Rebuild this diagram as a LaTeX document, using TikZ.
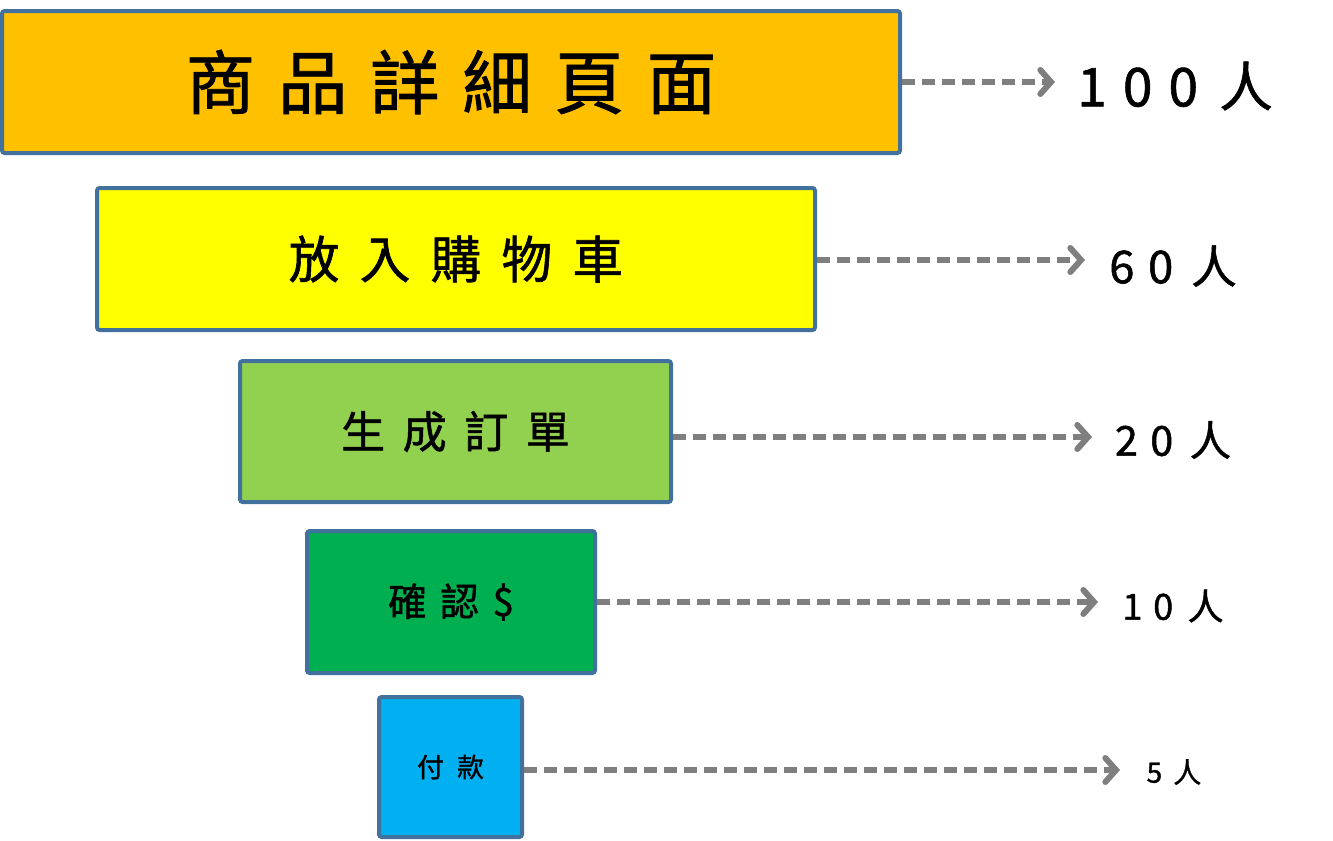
\documentclass[tikz,border=0pt]{standalone}
\usepackage{fontspec}
\setmainfont{Noto Sans CJK TC}[AutoFakeBold=1.2]
\usetikzlibrary{arrows.meta}
\definecolor{edgeblue}{HTML}{41719C}
\definecolor{cOrange}{HTML}{FFC000}
\definecolor{cYellow}{HTML}{FFFF00}
\definecolor{cLime}{HTML}{92D050}
\definecolor{cGreen}{HTML}{00B050}
\definecolor{cBlue}{HTML}{00B0F0}
\definecolor{arrowgray}{HTML}{7F7F7F}
\newcommand{\gp}[1]{\hspace{#1em}}
\tikzset{
  stagebox/.style={draw=edgeblue, line width=3pt, rounded corners=2pt, inner sep=0pt, anchor=center, font=\bfseries},
  flow/.style={draw=arrowgray, line width=4.5pt, dash pattern=on 10pt off 5pt, -{Straight Barb[length=8pt,width=18pt,line cap=round]}},
  count/.style={inner sep=0pt, anchor=center, font=\bfseries}
}
\begin{document}
\begin{tikzpicture}[x=0.75pt,y=-0.75pt]
\useasboundingbox (0,0) rectangle (1333,840);
\node[stagebox, fill=cOrange, minimum width=673.5pt, minimum height=106.5pt] (b1) at (451,82) {\fontsize{52pt}{60pt}\selectfont 商\gp{0.33}品\gp{0.33}詳\gp{0.33}細\gp{0.33}頁\gp{0.33}面};
\node[stagebox, fill=cYellow, minimum width=538.5pt, minimum height=106.5pt] (b2) at (456,259) {\fontsize{38pt}{44pt}\selectfont 放\gp{0.4}入\gp{0.4}購\gp{0.4}物\gp{0.4}車};
\node[stagebox, fill=cLime, minimum width=323.25pt, minimum height=105.75pt] (b3) at (455.5,431.5) {\fontsize{33pt}{40pt}\selectfont 生\gp{0.4}成\gp{0.4}訂\gp{0.4}單};
\node[stagebox, fill=cGreen, minimum width=216pt, minimum height=106.5pt] (b4) at (451,602) {\fontsize{29pt}{34pt}\selectfont 確\gp{0.35}認\gp{0.35}\$};
\node[stagebox, fill=cBlue, minimum width=107.25pt, minimum height=105pt] (b5) at (450.5,767) {\fontsize{20pt}{24pt}\selectfont 付\gp{0.5}款};

\coordinate (e1) at (1055,82);
\coordinate (e2) at (1085,260);
\coordinate (e3) at (1092,437);
\coordinate (e4) at (1098,602);
\coordinate (e5) at (1120,770);
\draw[flow] (b1.east |- e1) -- (e1);
\draw[flow] (b2.east |- e2) -- (e2);
\draw[flow] (b3.east |- e3) -- (e3);
\draw[flow] (b4.east |- e4) -- (e4);
\draw[flow] (b5.east |- e5) -- (e5);

\node[count] (n1) at (1175,86) {\fontsize{40pt}{46pt}\selectfont 1\gp{0.3}0\gp{0.3}0\gp{0.4}人};
\node[count] (n2) at (1173,266) {\fontsize{34pt}{40pt}\selectfont 6\gp{0.3}0\gp{0.4}人};
\node[count] (n3) at (1173,440) {\fontsize{31pt}{36pt}\selectfont 2\gp{0.3}0\gp{0.4}人};
\node[count] (n4) at (1173,606) {\fontsize{27pt}{32pt}\selectfont 1\gp{0.3}0\gp{0.4}人};
\node[count] (n5) at (1174,772) {\fontsize{21pt}{26pt}\selectfont 5\gp{0.4}人};
\end{tikzpicture}
\end{document}
